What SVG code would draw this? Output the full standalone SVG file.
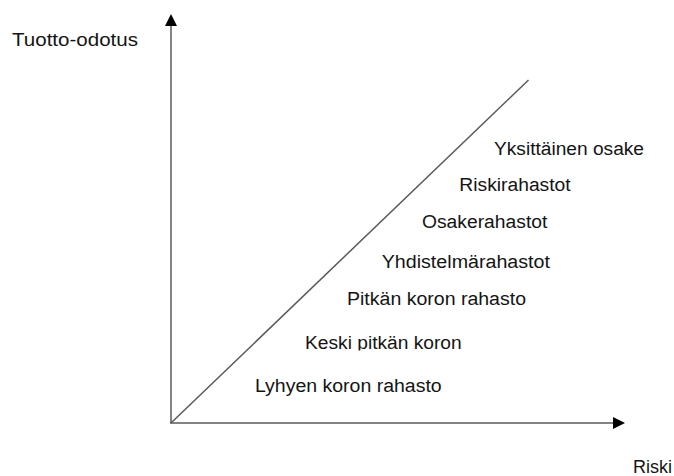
<svg xmlns="http://www.w3.org/2000/svg" width="674" height="476" viewBox="0 0 674 476">
<style>
.ax{stroke:#5a5a5a;stroke-width:1.5;fill:none}
.lbl{font-family:"Liberation Sans",Arial,sans-serif;font-size:18px;fill:#141414}
</style>
<defs>
<marker id="arr" viewBox="0 0 12 12" refX="0" refY="6" markerWidth="12" markerHeight="12" markerUnits="userSpaceOnUse" orient="auto">
<path d="M0,0 L12,6 L0,12 Z" fill="#000"/>
</marker>
<clipPath id="kclip"><rect x="290" y="320" width="200" height="30.5"/></clipPath>
</defs>
<rect width="674" height="476" fill="#fff"/>
<g id="connectors">
<line id="y-axis" class="ax" x1="171" y1="423" x2="171" y2="26" marker-end="url(#arr)"/>
<line id="x-axis" class="ax" x1="170" y1="423" x2="613" y2="423" marker-end="url(#arr)"/>
<line id="diagonal" class="ax" x1="171" y1="423" x2="528.5" y2="80"/>
</g>
<g id="label-tuotto"><text class="lbl" x="12" y="46" textLength="126" lengthAdjust="spacingAndGlyphs">Tuotto-odotus</text></g>
<g id="label-riski"><text class="lbl" x="633" y="473" textLength="39" lengthAdjust="spacingAndGlyphs">Riski</text></g>
<g id="n-yksittainen"><text class="lbl" x="494" y="154.5" textLength="150" lengthAdjust="spacingAndGlyphs">Yksittäinen osake</text></g>
<g id="n-riskirahastot"><text class="lbl" x="459.3" y="191" textLength="111.4" lengthAdjust="spacingAndGlyphs">Riskirahastot</text></g>
<g id="n-osakerahastot"><text class="lbl" x="422" y="228.3" textLength="125.3" lengthAdjust="spacingAndGlyphs">Osakerahastot</text></g>
<g id="n-yhdistelma"><text class="lbl" x="381.7" y="268.3" textLength="168.3" lengthAdjust="spacingAndGlyphs">Yhdistelmärahastot</text></g>
<g id="n-pitkan"><text class="lbl" x="347" y="305" textLength="179" lengthAdjust="spacingAndGlyphs">Pitkän koron rahasto</text></g>
<g id="n-keski"><text class="lbl" x="305" y="349.3" textLength="156.7" lengthAdjust="spacingAndGlyphs" clip-path="url(#kclip)">Keski pitkän koron</text></g>
<g id="n-lyhyen"><text class="lbl" x="255" y="391.7" textLength="186.7" lengthAdjust="spacingAndGlyphs">Lyhyen koron rahasto</text></g>
</svg>
